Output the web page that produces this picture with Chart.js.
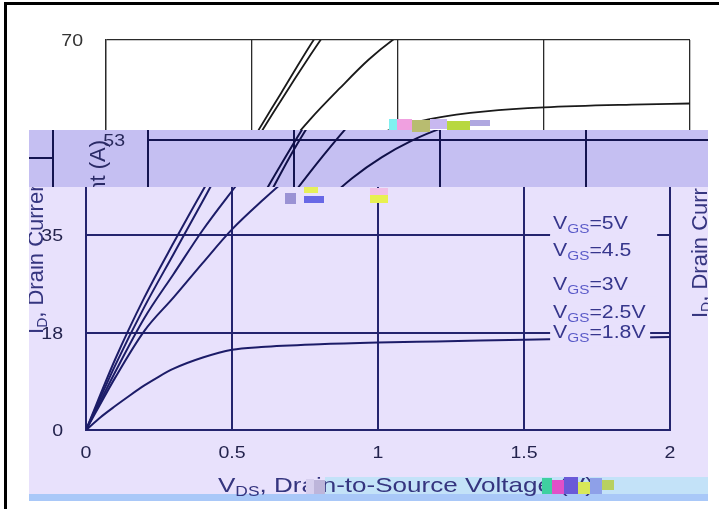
<!DOCTYPE html>
<html>
<head>
<meta charset="utf-8">
<title>Output Characteristics</title>
<script src="https://cdn.jsdelivr.net/npm/chart.js@4.4.1/dist/chart.umd.min.js"></script>
<style>
  html, body { margin: 0; padding: 0; background: #ffffff; }
  #stage { position: relative; width: 719px; height: 509px; overflow: hidden; background: #ffffff; }
  .layer { position: absolute; left: 0; top: 0; width: 719px; height: 509px; }
  .shift { position: absolute; width: 719px; height: 509px; }
  .blk { position: absolute; }
</style>
</head>
<body>
<div id="stage">
  <!-- upper strip: white rendition -->
  <div class="layer" style="background:#ffffff; clip-path: inset(5px 0 379px 7px);">
    <div class="shift" style="left:20px; top:0;"><canvas id="cTop" width="719" height="509"></canvas></div>
  </div>

  <!-- middle strip: darker lavender rendition -->
  <div class="layer" style="background:#c5bff2; clip-path: inset(130px 11px 322px 29px);">
    <div class="shift" style="left:62px; top:2px;"><canvas id="cBand" width="719" height="509"></canvas></div>
    <div class="shift" style="left:-617px; top:20px; clip-path: inset(0 42px 0 646px);"><canvas id="cBand2" width="719" height="509"></canvas></div>
  </div>

  <!-- main lavender rendition -->
  <div class="layer" style="background:#e8e1fc; clip-path: inset(187px 11px 8px 29px);">
    <div class="blk" style="left:325px; top:477px; width:383px; height:17px; background:#c3e2f8;"></div>
    <div class="blk" style="left:29px; top:494px; width:679px; height:7px; background:#a9c8f8;"></div>
    <div class="shift" style="left:0; top:0;"><canvas id="cMain" width="719" height="509"></canvas></div>
    <div class="blk" style="left:306px; top:479px; width:8px; height:15px; background:#d6cfee;"></div>
    <div class="blk" style="left:314px; top:480px; width:11px; height:14px; background:#bdb5da;"></div>
    <div class="blk" style="left:542px; top:478px; width:10px; height:16px; background:#3fd0a0;"></div>
    <div class="blk" style="left:552px; top:480px; width:12px; height:14px; background:#e050c8;"></div>
    <div class="blk" style="left:564px; top:477px; width:14px; height:17px; background:#6a5ad8;"></div>
    <div class="blk" style="left:578px; top:482px; width:12px; height:12px; background:#d8e858;"></div>
    <div class="blk" style="left:590px; top:478px; width:12px; height:16px; background:#8ea0e8;"></div>
    <div class="blk" style="left:602px; top:480px; width:12px; height:10px; background:#b8d060;"></div>
  </div>

  <!-- compression blocks along the strip seams -->
  <div class="blk" style="left:389px; top:119px; width:8px; height:11px; background:#7ff0f0;"></div>
  <div class="blk" style="left:397px; top:119px; width:15px; height:11px; background:#f0a0e0;"></div>
  <div class="blk" style="left:412px; top:120px; width:18px; height:12px; background:#b8bc70;"></div>
  <div class="blk" style="left:430px; top:119px; width:17px; height:10px; background:#c8b8f0;"></div>
  <div class="blk" style="left:447px; top:121px; width:23px; height:9px; background:#b8d840;"></div>
  <div class="blk" style="left:470px; top:120px; width:20px; height:6px; background:#b0a8e0;"></div>
  <div class="blk" style="left:285px; top:193px; width:11px; height:11px; background:#9a92d4;"></div>
  <div class="blk" style="left:304px; top:187px; width:14px; height:6px; background:#e6f05a;"></div>
  <div class="blk" style="left:304px; top:196px; width:20px; height:7px; background:#6868e6;"></div>
  <div class="blk" style="left:370px; top:188px; width:18px; height:7px; background:#f0c0e8;"></div>
  <div class="blk" style="left:370px; top:195px; width:18px; height:8px; background:#e8f050;"></div>

  <!-- frame edges -->
  <div class="blk" style="left:4px; top:2px; width:715px; height:3px; background:#000;"></div>
  <div class="blk" style="left:4px; top:2px; width:3px; height:507px; background:#000;"></div>
</div>

<script>
// Axis ticks
const vdsTicks = [0, 0.5, 1, 1.5, 2];
const idTicks = [0, 17.5, 35, 52.5, 70];

// Gate-voltage curves: drain-source voltage (V) and drain current (A)
const vds5V  = [0, 0.1, 0.2, 0.3, 0.4, 0.5, 0.6, 0.7, 0.8];
const id5V   = [0, 12.7, 23.8, 33.6, 43.0, 51.9, 60.5, 69.1, 77.0];
const vds45V = [0, 0.1, 0.2, 0.3, 0.4, 0.5, 0.6, 0.7, 0.8];
const id45V  = [0, 11.6, 22.1, 31.6, 41.1, 50.7, 59.2, 67.3, 75.0];
const vds3V  = [0, 0.1, 0.2, 0.3, 0.4, 0.5, 0.6, 0.7, 0.8, 0.9, 1.0, 1.1];
const id3V   = [0, 10.4, 20.1, 28.0, 35.9, 42.9, 49.6, 55.8, 61.3, 66.5, 70.7, 74.0];
const vds25V = [0, 0.1, 0.2, 0.3, 0.4, 0.5, 0.6, 0.7, 0.8, 0.9, 1.0, 1.1, 1.2, 1.3, 1.5, 1.8, 2.0];
const id25V  = [0, 9.4, 17.8, 23.8, 30.0, 36.0, 41.0, 45.6, 49.3, 52.2, 54.4, 55.7, 56.6, 57.2, 57.9, 58.4, 58.6];
const vds18V = [0, 0.05, 0.1, 0.15, 0.2, 0.25, 0.3, 0.4, 0.5, 0.6, 0.8, 1.0, 1.2, 1.5, 1.8, 2.0];
const id18V  = [0, 2.3, 4.3, 6.2, 8.0, 9.6, 11.0, 13.0, 14.4, 14.9, 15.4, 15.7, 15.9, 16.2, 16.5, 16.7];

// Curve labels and where they sit (V, A)
const vgsLabels = ['5V', '4.5', '3V', '2.5V', '1.8V'];
const labelVds = 1.61;
const labelId = [37.4, 32.5, 26.4, 21.3, 17.7];

const curves = [
  [vds5V, id5V], [vds45V, id45V], [vds3V, id3V], [vds25V, id25V], [vds18V, id18V]
];

const FONT = '"Liberation Sans", Arial, Helvetica, sans-serif';

// Draws a run of text pieces (for subscripts), optionally widened by sx
function runsWidth(ctx, parts) {
  let w = 0;
  for (const p of parts) { ctx.font = p.size + 'px ' + FONT; w += ctx.measureText(p.t).width; }
  return w;
}
function drawRuns(ctx, parts, x, y, sx = 1, align = 'left') {
  const w = runsWidth(ctx, parts) * sx;
  let start = x;
  if (align === 'center') start = x - w / 2;
  if (align === 'right') start = x - w;
  ctx.save();
  ctx.translate(start, y);
  ctx.scale(sx, 1);
  ctx.textAlign = 'left';
  ctx.textBaseline = 'alphabetic';
  let cx = 0;
  for (const p of parts) {
    ctx.font = p.size + 'px ' + FONT;
    ctx.fillStyle = p.color;
    ctx.fillText(p.t, cx, p.dy || 0);
    cx += ctx.measureText(p.t).width;
  }
  ctx.restore();
  return w;
}

function decorPlugin(st) {
  return {
    id: 'decor',
    afterDatasetsDraw(chart) {
      const { ctx, chartArea: a, scales: { x, y } } = chart;
      ctx.save();

      // tick labels
      vdsTicks.forEach(v => {
        drawRuns(ctx, [{ t: String(v), size: 17, color: st.tick }], x.getPixelForValue(v), a.bottom + 28, 1.15, 'center');
      });
      idTicks.forEach(v => {
        drawRuns(ctx, [{ t: String(Math.round(v)), size: 17, color: st.tick }], a.left - 23, y.getPixelForValue(v) + 6, 1.15, 'right');
      });

      // curve labels on plot-coloured boxes
      const pts = vgsLabels.map((lab, i) => ({ px: x.getPixelForValue(labelVds), py: y.getPixelForValue(labelId[i]) }));
      ctx.fillStyle = st.plotBg;
      pts.forEach((p, i) => ctx.fillRect(p.px - 6, p.py - 14, i === 4 ? 100 : 107, 28));
      vgsLabels.forEach((lab, i) => {
        drawRuns(ctx, [
          { t: 'V', size: 18, color: st.labelInk },
          { t: 'GS', size: 13, dy: 4, color: st.subInk },
          { t: '=' + lab, size: 18, color: st.labelInk }
        ], pts[i].px - 3, pts[i].py + 7, 1.18);
      });

      // y-axis title, rotated
      const yTitle = [
        { t: 'I', size: 22, color: st.titleInk },
        { t: 'D', size: 14, dy: 4, color: st.titleInk },
        { t: ', Drain Current (A)', size: 22, color: st.titleInk }
      ];
      ctx.save();
      ctx.translate(a.left - 43, (a.top + a.bottom) / 2 + 1);
      ctx.rotate(-Math.PI / 2);
      drawRuns(ctx, yTitle, 0, 0, 1, 'center');
      ctx.restore();

      // repeated title on the right side
      if (st.sideTitle) {
        ctx.save();
        ctx.translate(a.right + 37, a.bottom - 112);
        ctx.rotate(-Math.PI / 2);
        drawRuns(ctx, yTitle, 0, 0, 1, 'left');
        ctx.restore();
      }

      // x-axis title
      drawRuns(ctx, [
        { t: 'V', size: 21, color: st.titleInk },
        { t: 'DS', size: 14, dy: 4, color: st.titleInk },
        { t: ', Drain-to-Source Voltage (V)', size: 21, color: st.titleInk }
      ], a.left + 132, a.bottom + 62, 1.24);

      ctx.restore();
    }
  };
}

function makeChart(id, st) {
  const datasets = curves.map(([v, i], k) => ({
    label: 'VGS=' + vgsLabels[k],
    data: v.map((vv, j) => ({ x: vv, y: i[j] })),
    borderColor: st.line,
    borderWidth: st.lineWidth,
    pointRadius: 0,
    cubicInterpolationMode: 'monotone',
    fill: false,
    clip: 0
  }));
  return new Chart(document.getElementById(id), {
    type: 'line',
    data: { datasets },
    options: {
      responsive: false,
      animation: false,
      devicePixelRatio: 1,
      layout: { padding: { left: 0, right: 49, top: 40, bottom: 0 } },
      plugins: { legend: { display: false }, tooltip: { enabled: false } },
      scales: {
        x: {
          type: 'linear', min: vdsTicks[0], max: vdsTicks[vdsTicks.length - 1],
          afterFit(s) { s.height = 79; },
          afterBuildTicks(s) { s.ticks = vdsTicks.map(v => ({ value: v })); },
          ticks: { display: false },
          grid: { color: st.grid, lineWidth: st.gridWidth, drawTicks: false },
          border: { color: st.grid, width: st.gridWidth }
        },
        y: {
          type: 'linear', min: idTicks[0], max: idTicks[idTicks.length - 1],
          afterFit(s) { s.width = 86; },
          afterBuildTicks(s) { s.ticks = idTicks.map(v => ({ value: v })); },
          ticks: { display: false },
          grid: { color: st.grid, lineWidth: st.gridWidth, drawTicks: false },
          border: { color: st.grid, width: st.gridWidth }
        }
      }
    },
    plugins: [decorPlugin(st)]
  });
}

const mainStyle = { plotBg: '#e8e1fc', grid: '#24246e', gridWidth: 2, line: '#1c1c68', lineWidth: 2,
  tick: '#23234d', labelInk: '#36368c', subInk: '#5a5ac8', titleInk: '#35357f', sideTitle: true };
const bandStyle = { plotBg: '#c5bff2', grid: '#141450', gridWidth: 2, line: '#101048', lineWidth: 2,
  tick: '#28285a', labelInk: '#2a2a70', subInk: '#4a4ab0', titleInk: '#2a2a66', sideTitle: false };
const topStyle = { plotBg: '#ffffff', grid: '#2a2a2a', gridWidth: 1.3, line: '#1a1a1a', lineWidth: 1.8,
  tick: '#333333', labelInk: '#333333', subInk: '#555555', titleInk: '#333333', sideTitle: false };

makeChart('cTop', topStyle);
makeChart('cBand', bandStyle);
makeChart('cBand2', bandStyle);
makeChart('cMain', mainStyle);
</script>
</body>
</html>
